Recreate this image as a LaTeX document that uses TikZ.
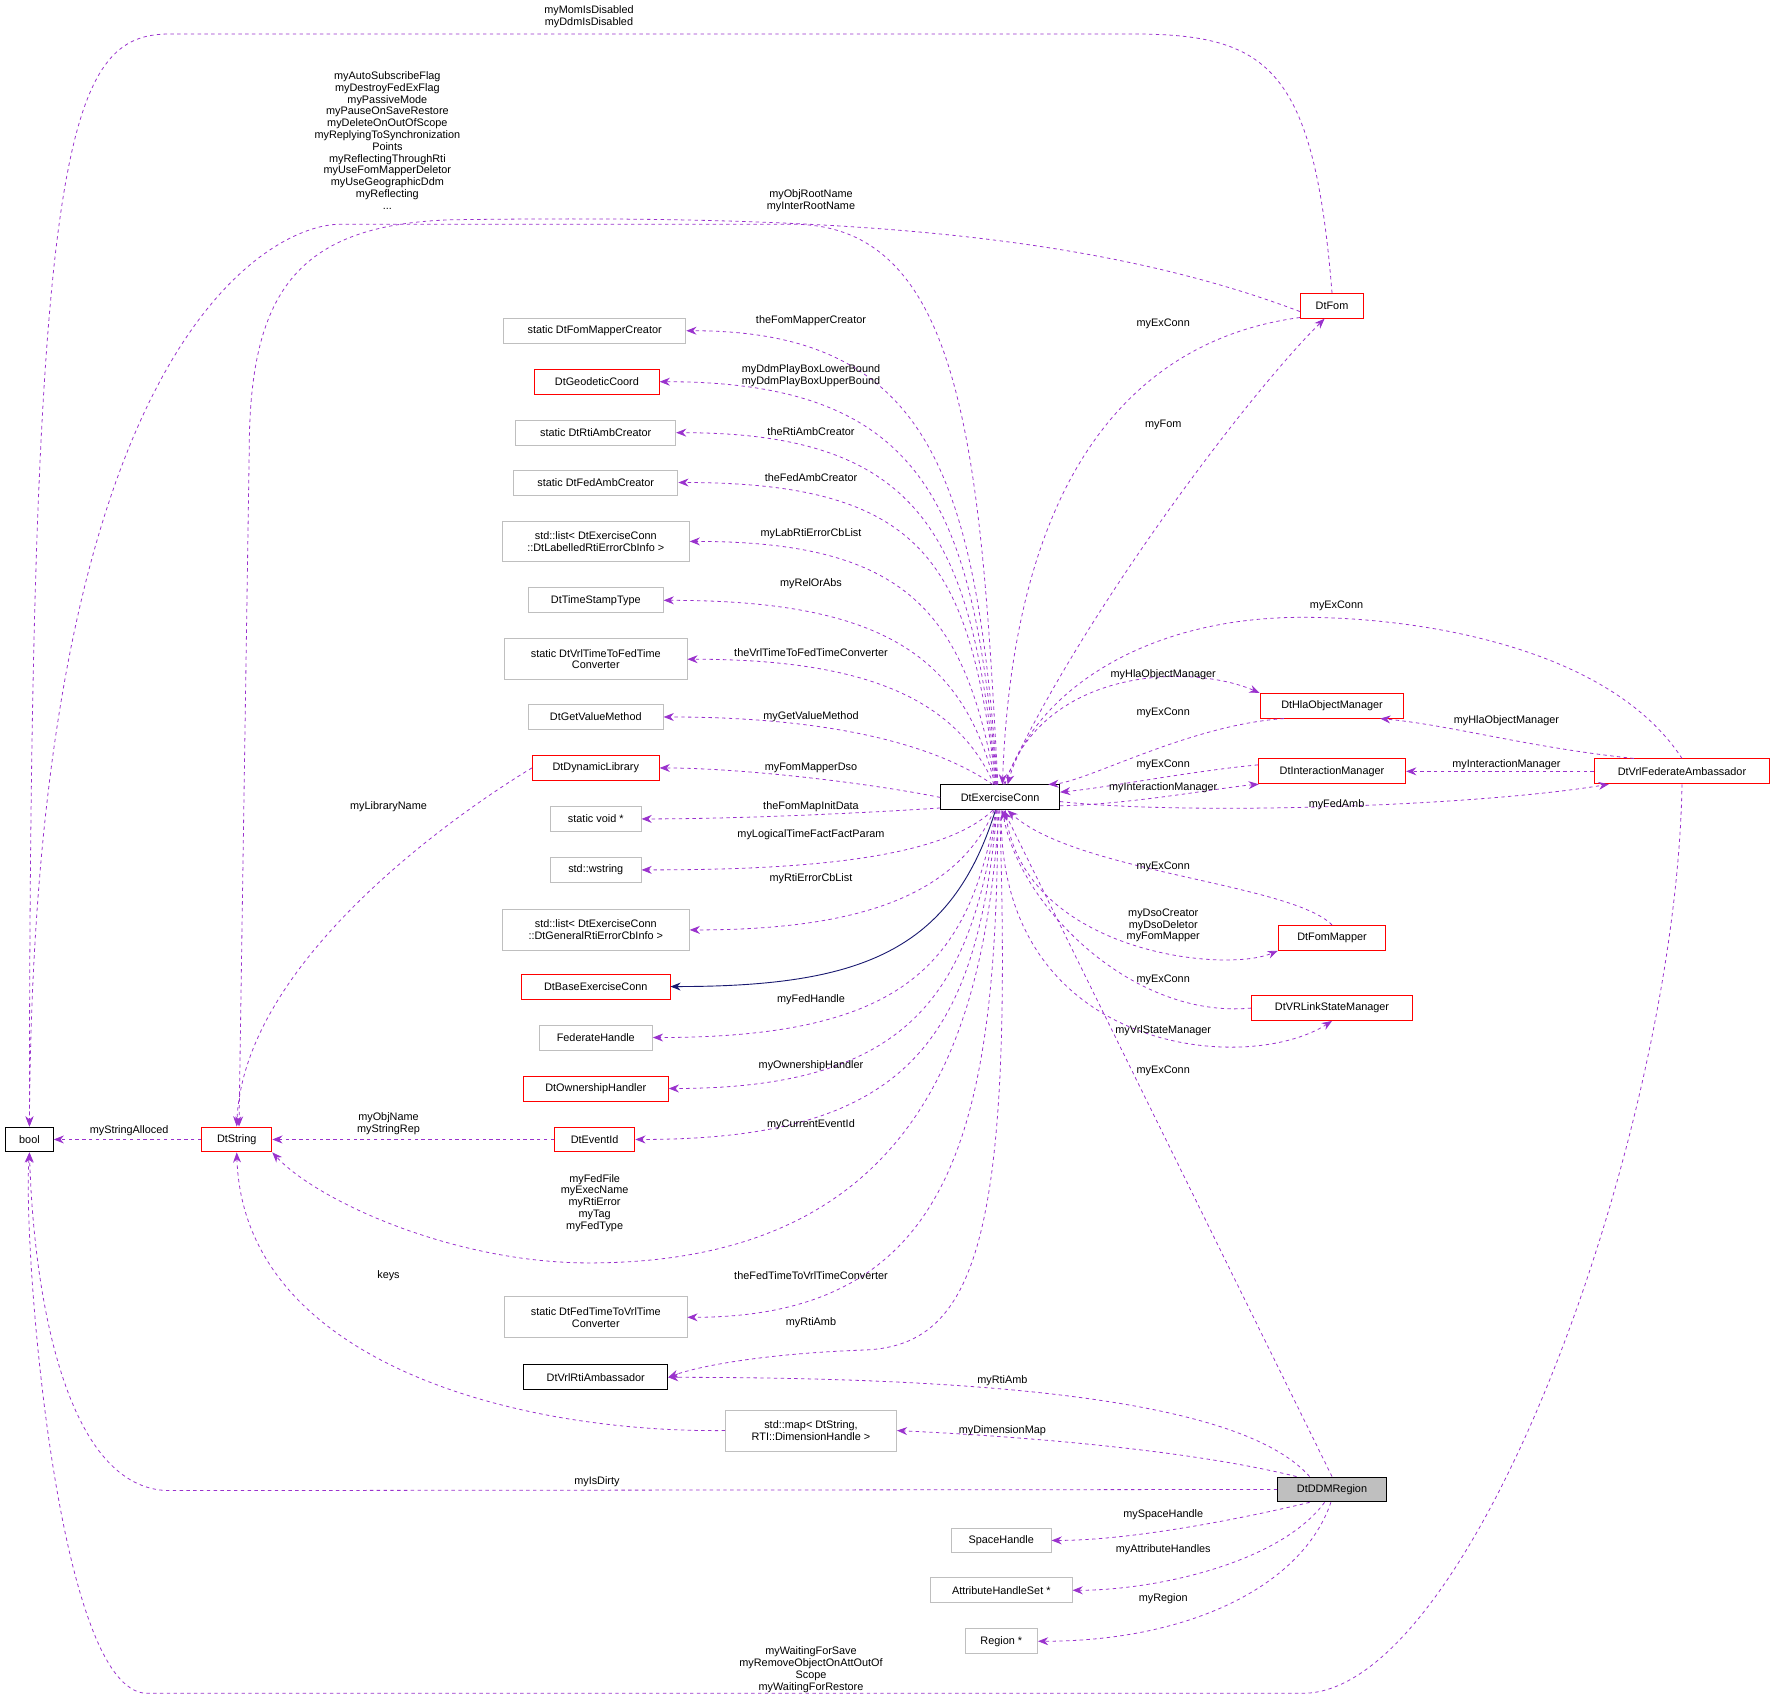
\documentclass[tikz,border=0pt]{standalone}
\usepackage{fontspec}
\setmainfont{Liberation Sans}
\usetikzlibrary{arrows.meta}
\definecolor{dep}{HTML}{9A32CD}
\definecolor{inh}{HTML}{191970}
\definecolor{gbox}{HTML}{BFBFBF}
\begin{document}
\begin{tikzpicture}[x=1pt,y=-1pt,
 font=\fontsize{9.6}{10.4}\selectfont,
 box/.style={draw=black,fill=white,minimum height=22,inner sep=2pt,align=center,line width=0.8pt},
 rbox/.style={box,draw=red},
 gb/.style={box,draw=gbox},
 lbl/.style={align=center,inner sep=0pt},
 d/.style={draw=dep,dashed,line width=0.7pt,-{Stealth[length=9pt,width=7pt]}},
 s/.style={draw=inh,line width=0.8pt,-{Stealth[length=9pt,width=7pt]}}]
\useasboundingbox (0,0) rectangle (1568,1500);
% nodes
\node[box,minimum width=42] (bool) at (26,1006) {bool};
\node[rbox,minimum width=62] (ds) at (209,1006) {DtString};
\node[rbox,minimum width=71] (ev) at (525,1006) {DtEventId};
\node[box,minimum width=105] (ec) at (883,704) {DtExerciseConn};
\node[gb,minimum width=161] (fmc) at (525,292) {static DtFomMapperCreator};
\node[rbox,minimum width=110] (geo) at (527,337) {DtGeodeticCoord};
\node[gb,minimum width=141] (rac) at (526,382) {static DtRtiAmbCreator};
\node[gb,minimum width=145] (fac) at (526,426) {static DtFedAmbCreator};
\node[gb,minimum width=165,minimum height=36] (ll) at (526,478) {std::list< DtExerciseConn\\::DtLabelledRtiErrorCbInfo >};
\node[gb,minimum width=119] (tst) at (526,530) {DtTimeStampType};
\node[gb,minimum width=161,minimum height=36] (vtf) at (526,582) {static DtVrlTimeToFedTime\\Converter};
\node[gb,minimum width=119] (gvm) at (526,633) {DtGetValueMethod};
\node[rbox,minimum width=112] (dl) at (526,678) {DtDynamicLibrary};
\node[gb,minimum width=80] (sv) at (526,723) {static void *};
\node[gb,minimum width=80] (ws) at (526,768) {std::wstring};
\node[gb,minimum width=165,minimum height=36] (lg) at (526,821) {std::list< DtExerciseConn\\::DtGeneralRtiErrorCbInfo >};
\node[rbox,minimum width=131] (bec) at (526,871) {DtBaseExerciseConn};
\node[gb,minimum width=100] (fh) at (526,916) {FederateHandle};
\node[rbox,minimum width=128] (oh) at (526,961) {DtOwnershipHandler};
\node[gb,minimum width=161,minimum height=36] (ftv) at (526,1163) {static DtFedTimeToVrlTime\\Converter};
\node[box,minimum width=127] (vra) at (526,1216) {DtVrlRtiAmbassador};
\node[gb,minimum width=151,minimum height=36] (map) at (716,1263) {std::map< DtString,\\RTI::DimensionHandle >};
\node[box,fill=gbox,minimum width=96] (ddm) at (1176,1315) {DtDDMRegion};
\node[gb,minimum width=88] (sh) at (884,1360) {SpaceHandle};
\node[gb,minimum width=125] (ahs) at (884,1404) {AttributeHandleSet *};
\node[gb,minimum width=64] (reg) at (884,1449) {Region *};
\node[rbox,minimum width=56] (fom) at (1176,270) {DtFom};
\node[rbox,minimum width=127] (hla) at (1176,623) {DtHlaObjectManager};
\node[rbox,minimum width=130] (im) at (1176,681) {DtInteractionManager};
\node[rbox,minimum width=95] (fm) at (1176,828) {DtFomMapper};
\node[rbox,minimum width=142] (vrl) at (1176,890) {DtVRLinkStateManager};
\node[rbox,minimum width=155] (vfa) at (1485,681) {DtVrlFederateAmbassador};
% edges to bool and DtString
\draw[d] (fom.north) .. controls (1160,60) and (1120,30) .. (1000,30) -- (150,30) .. controls (60,30) and (26,120) .. (bool.north);
\draw[d] (ec.100) .. controls (866,400) and (850,198) .. (700,198) -- (300,198) .. controls (240,198) and (30,300) .. (bool.north);
\draw[d] (fom.190) .. controls (950,200) and (700,190) .. (400,194) .. controls (260,198) and (220,260) .. (220,400) -- (ds.80);
\draw[d] (ddm.west) -- (150,1316) .. controls (60,1316) and (30,1150) .. (bool.south);
\draw[d] (vfa.south) .. controls (1480,1000) and (1300,1495) .. (1150,1495) -- (130,1495) .. controls (50,1495) and (20,1100) .. (bool.south);
\draw[d] (dl.west) .. controls (400,720) and (215,850) .. (ds.north);
\draw[d] (map.west) .. controls (450,1265) and (215,1200) .. (ds.south);
\draw[d] (ev.west) -- (ds.east);
\draw[d] (ds.west) -- (bool.east);
\draw[d] (ec.-95) .. controls (870,900) and (820,1115) .. (520,1115) .. controls (400,1115) and (280,1060) .. (ds.south east);
% fan left
\draw[d] (ec.102) .. controls (862,420) and (820,292) .. (fmc.east);
\draw[d] (ec.104) .. controls (860,450) and (820,337) .. (geo.east);
\draw[d] (ec.106) .. controls (858,480) and (820,382) .. (rac.east);
\draw[d] (ec.108) .. controls (856,500) and (820,426) .. (fac.east);
\draw[d] (ec.110) .. controls (852,540) and (800,478) .. (ll.east);
\draw[d] (ec.112) .. controls (850,580) and (780,530) .. (tst.east);
\draw[d] (ec.115) .. controls (845,620) and (770,582) .. (vtf.east);
\draw[d] (ec.120) .. controls (830,660) and (740,633) .. (gvm.east);
\draw[d] (ec.west) .. controls (760,690) and (650,678) .. (dl.east);
\draw[d] (ec.190) .. controls (760,718) and (650,723) .. (sv.east);
\draw[d] (ec.-120) .. controls (830,760) and (700,768) .. (ws.east);
\draw[d] (ec.-115) .. controls (845,790) and (760,821) .. (lg.east);
\draw[s] (ec.-110) .. controls (840,840) and (760,871) .. (bec.east);
\draw[d] (ec.-108) .. controls (855,850) and (800,916) .. (fh.east);
\draw[d] (ec.-106) .. controls (858,880) and (800,961) .. (oh.east);
\draw[d] (ec.-104) .. controls (862,920) and (800,1006) .. (ev.east);
\draw[d] (ec.-100) .. controls (880,1000) and (840,1163) .. (ftv.east);
\draw[d] (ec.-92) .. controls (895,1100) and (860,1190) .. (760,1192) .. controls (680,1195) and (620,1205) .. (vra.east);
% DDMRegion
\draw[d] (ddm.150) .. controls (1100,1240) and (900,1216) .. (vra.east);
\draw[d] (ddm.160) .. controls (1050,1280) and (900,1268) .. (map.east);
\draw[d] (ddm.north) -- (ec.-75);
\draw[d] (ddm.-150) .. controls (1100,1340) and (1000,1360) .. (sh.east);
\draw[d] (ddm.-120) .. controls (1130,1380) and (1020,1404) .. (ahs.east);
\draw[d] (ddm.-95) .. controls (1150,1400) and (1050,1449) .. (reg.east);
% right side
\draw[d] (fom.200) .. controls (1000,300) and (895,420) .. (ec.80);
\draw[d] (ec.75) .. controls (950,550) and (1100,350) .. (fom.-120);
\draw[d] (ec.70) .. controls (920,590) and (1050,585) .. (hla.170);
\draw[d] (hla.195) .. controls (1050,640) and (960,690) .. (ec.15);
\draw[d] (im.175) .. controls (1050,681) and (980,695) .. (ec.5);
\draw[d] (ec.-8) .. controls (1000,710) and (1080,695) .. (im.190);
\draw[d] (ec.-4) .. controls (1050,720) and (1300,712) .. (vfa.190);
\draw[d] (vfa.north) .. controls (1420,570) and (1250,545) .. (1150,545) .. controls (1000,545) and (910,620) .. (ec.60);
\draw[d] (vfa.165) .. controls (1350,660) and (1280,640) .. (hla.-15);
\draw[d] (vfa.west) -- (im.east);
\draw[d] (fm.north) .. controls (1140,780) and (950,770) .. (ec.-60);
\draw[d] (ec.-68) .. controls (900,840) and (1080,860) .. (fm.south west);
\draw[d] (vrl.west) .. controls (1000,900) and (900,800) .. (ec.-80);
\draw[d] (ec.-85) .. controls (880,930) and (1100,950) .. (vrl.south);
% labels
\node[lbl] at (520,15) {myMomIsDisabled\\myDdmIsDisabled};
\node[lbl] at (342,124) {myAutoSubscribeFlag\\myDestroyFedExFlag\\myPassiveMode\\myPauseOnSaveRestore\\myDeleteOnOutOfScope\\myReplyingToSynchronization\\Points\\myReflectingThroughRti\\myUseFomMapperDeletor\\myUseGeographicDdm\\myReflecting\\...};
\node[lbl] at (716,177) {myObjRootName\\myInterRootName};
\node[lbl] at (716,283) {theFomMapperCreator};
\node[lbl] at (716,332) {myDdmPlayBoxLowerBound\\myDdmPlayBoxUpperBound};
\node[lbl] at (716,381) {theRtiAmbCreator};
\node[lbl] at (716,422) {theFedAmbCreator};
\node[lbl] at (716,471) {myLabRtiErrorCbList};
\node[lbl] at (716,515) {myRelOrAbs};
\node[lbl] at (716,576) {theVrlTimeToFedTimeConverter};
\node[lbl] at (716,633) {myGetValueMethod};
\node[lbl] at (716,678) {myFomMapperDso};
\node[lbl] at (716,712) {theFomMapInitData};
\node[lbl] at (716,737) {myLogicalTimeFactFactParam};
\node[lbl] at (716,776) {myRtiErrorCbList};
\node[lbl] at (716,883) {myFedHandle};
\node[lbl] at (716,941) {myOwnershipHandler};
\node[lbl] at (716,993) {myCurrentEventId};
\node[lbl] at (525,1062) {myFedFile\\myExecName\\myRtiError\\myTag\\myFedType};
\node[lbl] at (716,1126) {theFedTimeToVrlTimeConverter};
\node[lbl] at (716,1168) {myRtiAmb};
\node[lbl] at (885,1219) {myRtiAmb};
\node[lbl] at (885,1263) {myDimensionMap};
\node[lbl] at (527,1308) {myIsDirty};
\node[lbl] at (1027,1337) {mySpaceHandle};
\node[lbl] at (1027,1368) {myAttributeHandles};
\node[lbl] at (1027,1411) {myRegion};
\node[lbl] at (1027,945) {myExConn};
\node[lbl] at (716,1474) {myWaitingForSave\\myRemoveObjectOnAttOutOf\\Scope\\myWaitingForRestore};
\node[lbl] at (343,712) {myLibraryName};
\node[lbl] at (343,1126) {keys};
\node[lbl] at (343,992) {myObjName\\myStringRep};
\node[lbl] at (114,998) {myStringAlloced};
\node[lbl] at (1027,286) {myExConn};
\node[lbl] at (1027,375) {myFom};
\node[lbl] at (1027,596) {myHlaObjectManager};
\node[lbl] at (1027,629) {myExConn};
\node[lbl] at (1027,675) {myExConn};
\node[lbl] at (1027,695) {myInteractionManager};
\node[lbl] at (1180,710) {myFedAmb};
\node[lbl] at (1180,535) {myExConn};
\node[lbl] at (1330,636) {myHlaObjectManager};
\node[lbl] at (1330,675) {myInteractionManager};
\node[lbl] at (1027,765) {myExConn};
\node[lbl] at (1027,817) {myDsoCreator\\myDsoDeletor\\myFomMapper};
\node[lbl] at (1027,865) {myExConn};
\node[lbl] at (1027,910) {myVrlStateManager};
\end{tikzpicture}
\end{document}
